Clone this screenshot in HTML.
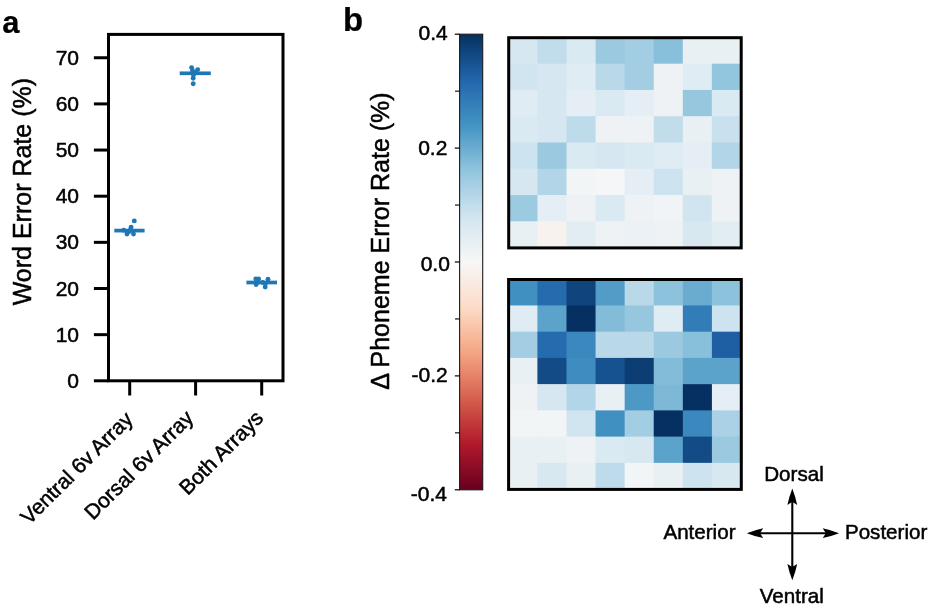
<!DOCTYPE html>
<html><head><meta charset="utf-8"><title>Figure</title>
<style>
html,body{margin:0;padding:0;background:#fff;}
svg{display:block;}
text{font-family:"Liberation Sans",Arial,sans-serif;fill:#000;stroke:#000;stroke-width:0.5px;}
.b{font-weight:bold;font-size:28px;stroke-width:0.2px;}
.t{font-size:21px;}
.c{font-size:20.6px;}
.l{font-size:25px;}
</style></head><body>
<svg width="931" height="612" viewBox="0 0 931 612">
<rect width="931" height="612" fill="#fff"/>

<text class="b" style="font-size:31px" x="2.2" y="32.5">a</text>
<text class="b" style="font-size:33px" x="343" y="30.5">b</text>
<rect x="108.5" y="34.4" width="174.5" height="346.4" fill="none" stroke="#000" stroke-width="3.0"/>
<line x1="93.9" x2="108.5" y1="380.80" y2="380.80" stroke="#000" stroke-width="3.0"/>
<text class="t" x="79" y="387.80" text-anchor="end">0</text>
<line x1="93.9" x2="108.5" y1="334.65" y2="334.65" stroke="#000" stroke-width="3.0"/>
<text class="t" x="79" y="341.65" text-anchor="end">10</text>
<line x1="93.9" x2="108.5" y1="288.50" y2="288.50" stroke="#000" stroke-width="3.0"/>
<text class="t" x="79" y="295.50" text-anchor="end">20</text>
<line x1="93.9" x2="108.5" y1="242.35" y2="242.35" stroke="#000" stroke-width="3.0"/>
<text class="t" x="79" y="249.35" text-anchor="end">30</text>
<line x1="93.9" x2="108.5" y1="196.20" y2="196.20" stroke="#000" stroke-width="3.0"/>
<text class="t" x="79" y="203.20" text-anchor="end">40</text>
<line x1="93.9" x2="108.5" y1="150.05" y2="150.05" stroke="#000" stroke-width="3.0"/>
<text class="t" x="79" y="157.05" text-anchor="end">50</text>
<line x1="93.9" x2="108.5" y1="103.90" y2="103.90" stroke="#000" stroke-width="3.0"/>
<text class="t" x="79" y="110.90" text-anchor="end">60</text>
<line x1="93.9" x2="108.5" y1="57.75" y2="57.75" stroke="#000" stroke-width="3.0"/>
<text class="t" x="79" y="64.75" text-anchor="end">70</text>
<line x1="129.7" x2="129.7" y1="380.8" y2="395.5" stroke="#000" stroke-width="3.0"/>
<line x1="195.6" x2="195.6" y1="380.8" y2="395.5" stroke="#000" stroke-width="3.0"/>
<line x1="261.7" x2="261.7" y1="380.8" y2="395.5" stroke="#000" stroke-width="3.0"/>
<text class="t" style="font-size:21.0px" text-anchor="end" transform="translate(134.1,420.6) rotate(-45)" x="0" y="0">Ventral 6v Array</text>
<text class="t" style="font-size:21.0px" text-anchor="end" transform="translate(194.6,419.3) rotate(-45)" x="0" y="0">Dorsal 6v Array</text>
<text class="t" style="font-size:21.0px" text-anchor="end" transform="translate(264.5,419.3) rotate(-45)" x="0" y="0">Both Arrays</text>
<text class="l" text-anchor="middle" transform="translate(31.4,191.65) rotate(-90)">Word Error Rate (%)</text>
<line x1="114.3" x2="144.6" y1="230.60" y2="230.60" stroke="#1f77b4" stroke-width="3.7"/>
<circle cx="134.3" cy="220.90" r="2.45" fill="#1f77b4"/>
<circle cx="131.1" cy="227.10" r="2.45" fill="#1f77b4"/>
<circle cx="127.0" cy="234.00" r="2.45" fill="#1f77b4"/>
<circle cx="133.5" cy="234.00" r="2.45" fill="#1f77b4"/>
<circle cx="123.7" cy="230.30" r="2.45" fill="#1f77b4"/>
<circle cx="129.5" cy="231.50" r="2.45" fill="#1f77b4"/>
<circle cx="130.5" cy="229.50" r="2.45" fill="#1f77b4"/>
<line x1="179.7" x2="210.8" y1="73.30" y2="73.30" stroke="#1f77b4" stroke-width="3.7"/>
<circle cx="191.6" cy="67.60" r="2.45" fill="#1f77b4"/>
<circle cx="197.7" cy="69.60" r="2.45" fill="#1f77b4"/>
<circle cx="192.5" cy="70.50" r="2.45" fill="#1f77b4"/>
<circle cx="195.5" cy="72.50" r="2.45" fill="#1f77b4"/>
<circle cx="193.5" cy="75.00" r="2.45" fill="#1f77b4"/>
<circle cx="193.2" cy="78.20" r="2.45" fill="#1f77b4"/>
<circle cx="193.2" cy="83.70" r="2.45" fill="#1f77b4"/>
<line x1="246.4" x2="277.0" y1="282.50" y2="282.50" stroke="#1f77b4" stroke-width="3.7"/>
<circle cx="255.8" cy="278.90" r="2.45" fill="#1f77b4"/>
<circle cx="258.6" cy="278.90" r="2.45" fill="#1f77b4"/>
<circle cx="268.0" cy="279.30" r="2.45" fill="#1f77b4"/>
<circle cx="256.2" cy="284.60" r="2.45" fill="#1f77b4"/>
<circle cx="265.2" cy="287.00" r="2.45" fill="#1f77b4"/>
<circle cx="262.7" cy="282.50" r="2.45" fill="#1f77b4"/>
<circle cx="265.5" cy="283.50" r="2.45" fill="#1f77b4"/>
<defs><linearGradient id="g" x1="0" y1="0" x2="0" y2="1">
<stop offset="0.0" stop-color="#053061"/>
<stop offset="0.1" stop-color="#2166ac"/>
<stop offset="0.2" stop-color="#4393c3"/>
<stop offset="0.3" stop-color="#92c5de"/>
<stop offset="0.4" stop-color="#d1e5f0"/>
<stop offset="0.5" stop-color="#f7f7f7"/>
<stop offset="0.6" stop-color="#fddbc7"/>
<stop offset="0.7" stop-color="#f4a582"/>
<stop offset="0.8" stop-color="#d6604d"/>
<stop offset="0.9" stop-color="#b2182b"/>
<stop offset="1.0" stop-color="#67001f"/>
</linearGradient></defs>
<rect x="459.6" y="34.2" width="23.1" height="455.6" fill="url(#g)" stroke="#1a1a1a" stroke-width="1.1"/>
<line x1="454.8" x2="459.6" y1="34.20" y2="34.20" stroke="#000" stroke-width="1.2"/>
<text class="t" x="447.7" y="39.8" text-anchor="end">0.4</text>
<line x1="455.0" x2="459.6" y1="91.15" y2="91.15" stroke="#000" stroke-width="1.1"/>
<line x1="454.8" x2="459.6" y1="148.10" y2="148.10" stroke="#000" stroke-width="1.2"/>
<text class="t" x="447.4" y="155.4" text-anchor="end">0.2</text>
<line x1="455.0" x2="459.6" y1="205.05" y2="205.05" stroke="#000" stroke-width="1.1"/>
<line x1="454.8" x2="459.6" y1="262.00" y2="262.00" stroke="#000" stroke-width="1.2"/>
<text class="t" x="449.9" y="271.0" text-anchor="end">0.0</text>
<line x1="455.0" x2="459.6" y1="318.95" y2="318.95" stroke="#000" stroke-width="1.1"/>
<line x1="454.8" x2="459.6" y1="375.90" y2="375.90" stroke="#000" stroke-width="1.2"/>
<text class="t" x="447.7" y="381.5" text-anchor="end">-0.2</text>
<line x1="455.0" x2="459.6" y1="432.85" y2="432.85" stroke="#000" stroke-width="1.1"/>
<line x1="454.8" x2="459.6" y1="489.80" y2="489.80" stroke="#000" stroke-width="1.2"/>
<text class="t" x="447.0" y="500.6" text-anchor="end">-0.4</text>
<text class="l" text-anchor="middle" transform="translate(389.3,241.05) rotate(-90)">Δ Phoneme Error Rate (%)</text>
<rect x="508.40" y="37.40" width="29.66" height="26.88" fill="#d6e7f1"/>
<rect x="537.46" y="37.40" width="29.66" height="26.88" fill="#c1ddec"/>
<rect x="566.53" y="37.40" width="29.66" height="26.88" fill="#daeaf2"/>
<rect x="595.59" y="37.40" width="29.66" height="26.88" fill="#9ac9e0"/>
<rect x="624.65" y="37.40" width="29.66" height="26.88" fill="#a2cde2"/>
<rect x="653.71" y="37.40" width="29.66" height="26.88" fill="#88bfdb"/>
<rect x="682.78" y="37.40" width="29.66" height="26.88" fill="#e9f0f4"/>
<rect x="711.84" y="37.40" width="29.66" height="26.88" fill="#e9f0f4"/>
<rect x="508.40" y="63.68" width="29.66" height="26.88" fill="#d1e5f0"/>
<rect x="537.46" y="63.68" width="29.66" height="26.88" fill="#d6e7f1"/>
<rect x="566.53" y="63.68" width="29.66" height="26.88" fill="#dfecf3"/>
<rect x="595.59" y="63.68" width="29.66" height="26.88" fill="#b9d9e9"/>
<rect x="624.65" y="63.68" width="29.66" height="26.88" fill="#a2cde2"/>
<rect x="653.71" y="63.68" width="29.66" height="26.88" fill="#eef2f5"/>
<rect x="682.78" y="63.68" width="29.66" height="26.88" fill="#dfecf3"/>
<rect x="711.84" y="63.68" width="29.66" height="26.88" fill="#92c5de"/>
<rect x="508.40" y="89.95" width="29.66" height="26.88" fill="#dfecf3"/>
<rect x="537.46" y="89.95" width="29.66" height="26.88" fill="#d6e7f1"/>
<rect x="566.53" y="89.95" width="29.66" height="26.88" fill="#e4eef4"/>
<rect x="595.59" y="89.95" width="29.66" height="26.88" fill="#daeaf2"/>
<rect x="624.65" y="89.95" width="29.66" height="26.88" fill="#e4eef4"/>
<rect x="653.71" y="89.95" width="29.66" height="26.88" fill="#eef2f5"/>
<rect x="682.78" y="89.95" width="29.66" height="26.88" fill="#96c7df"/>
<rect x="711.84" y="89.95" width="29.66" height="26.88" fill="#daeaf2"/>
<rect x="508.40" y="116.22" width="29.66" height="26.88" fill="#daeaf2"/>
<rect x="537.46" y="116.22" width="29.66" height="26.88" fill="#d6e7f1"/>
<rect x="566.53" y="116.22" width="29.66" height="26.88" fill="#bddbea"/>
<rect x="595.59" y="116.22" width="29.66" height="26.88" fill="#eef2f5"/>
<rect x="624.65" y="116.22" width="29.66" height="26.88" fill="#eef2f5"/>
<rect x="653.71" y="116.22" width="29.66" height="26.88" fill="#c1ddec"/>
<rect x="682.78" y="116.22" width="29.66" height="26.88" fill="#e9f0f4"/>
<rect x="711.84" y="116.22" width="29.66" height="26.88" fill="#c9e1ee"/>
<rect x="508.40" y="142.50" width="29.66" height="26.88" fill="#cde3ef"/>
<rect x="537.46" y="142.50" width="29.66" height="26.88" fill="#9ac9e0"/>
<rect x="566.53" y="142.50" width="29.66" height="26.88" fill="#daeaf2"/>
<rect x="595.59" y="142.50" width="29.66" height="26.88" fill="#d6e7f1"/>
<rect x="624.65" y="142.50" width="29.66" height="26.88" fill="#daeaf2"/>
<rect x="653.71" y="142.50" width="29.66" height="26.88" fill="#dfecf3"/>
<rect x="682.78" y="142.50" width="29.66" height="26.88" fill="#e4eef4"/>
<rect x="711.84" y="142.50" width="29.66" height="26.88" fill="#b2d5e7"/>
<rect x="508.40" y="168.77" width="29.66" height="26.88" fill="#d6e7f1"/>
<rect x="537.46" y="168.77" width="29.66" height="26.88" fill="#b2d5e7"/>
<rect x="566.53" y="168.77" width="29.66" height="26.88" fill="#f2f5f6"/>
<rect x="595.59" y="168.77" width="29.66" height="26.88" fill="#f5f6f7"/>
<rect x="624.65" y="168.77" width="29.66" height="26.88" fill="#e4eef4"/>
<rect x="653.71" y="168.77" width="29.66" height="26.88" fill="#cde3ef"/>
<rect x="682.78" y="168.77" width="29.66" height="26.88" fill="#e9f0f4"/>
<rect x="711.84" y="168.77" width="29.66" height="26.88" fill="#eef2f5"/>
<rect x="508.40" y="195.05" width="29.66" height="26.88" fill="#9bcae1"/>
<rect x="537.46" y="195.05" width="29.66" height="26.88" fill="#e4eef4"/>
<rect x="566.53" y="195.05" width="29.66" height="26.88" fill="#eef2f5"/>
<rect x="595.59" y="195.05" width="29.66" height="26.88" fill="#daeaf2"/>
<rect x="624.65" y="195.05" width="29.66" height="26.88" fill="#eef2f5"/>
<rect x="653.71" y="195.05" width="29.66" height="26.88" fill="#f0f4f6"/>
<rect x="682.78" y="195.05" width="29.66" height="26.88" fill="#d1e5f0"/>
<rect x="711.84" y="195.05" width="29.66" height="26.88" fill="#eef2f5"/>
<rect x="508.40" y="221.32" width="29.66" height="26.88" fill="#e9f0f4"/>
<rect x="537.46" y="221.32" width="29.66" height="26.88" fill="#f8f2ee"/>
<rect x="566.53" y="221.32" width="29.66" height="26.88" fill="#e2edf3"/>
<rect x="595.59" y="221.32" width="29.66" height="26.88" fill="#eef2f5"/>
<rect x="624.65" y="221.32" width="29.66" height="26.88" fill="#ebf1f5"/>
<rect x="653.71" y="221.32" width="29.66" height="26.88" fill="#eef2f5"/>
<rect x="682.78" y="221.32" width="29.66" height="26.88" fill="#d8e8f1"/>
<rect x="711.84" y="221.32" width="29.66" height="26.88" fill="#e2edf3"/>
<rect x="508.70" y="37.70" width="232.50" height="210.20" fill="none" stroke="#000" stroke-width="3.0"/>
<rect x="508.30" y="279.20" width="29.69" height="26.84" fill="#4190c2"/>
<rect x="537.39" y="279.20" width="29.69" height="26.84" fill="#256caf"/>
<rect x="566.48" y="279.20" width="29.69" height="26.84" fill="#10447d"/>
<rect x="595.56" y="279.20" width="29.69" height="26.84" fill="#529cc8"/>
<rect x="624.65" y="279.20" width="29.69" height="26.84" fill="#b9d9e9"/>
<rect x="653.74" y="279.20" width="29.69" height="26.84" fill="#8dc2dc"/>
<rect x="682.83" y="279.20" width="29.69" height="26.84" fill="#6aacd0"/>
<rect x="711.91" y="279.20" width="29.69" height="26.84" fill="#8dc2dc"/>
<rect x="508.30" y="305.44" width="29.69" height="26.84" fill="#dfecf3"/>
<rect x="537.39" y="305.44" width="29.69" height="26.84" fill="#5ca3cb"/>
<rect x="566.48" y="305.44" width="29.69" height="26.84" fill="#053061"/>
<rect x="595.56" y="305.44" width="29.69" height="26.84" fill="#83bcd9"/>
<rect x="624.65" y="305.44" width="29.69" height="26.84" fill="#96c7df"/>
<rect x="653.74" y="305.44" width="29.69" height="26.84" fill="#dfecf3"/>
<rect x="682.83" y="305.44" width="29.69" height="26.84" fill="#327cb8"/>
<rect x="711.91" y="305.44" width="29.69" height="26.84" fill="#cde3ef"/>
<rect x="508.30" y="331.68" width="29.69" height="26.84" fill="#a2cde2"/>
<rect x="537.39" y="331.68" width="29.69" height="26.84" fill="#256caf"/>
<rect x="566.48" y="331.68" width="29.69" height="26.84" fill="#3a88bd"/>
<rect x="595.56" y="331.68" width="29.69" height="26.84" fill="#b9d9e9"/>
<rect x="624.65" y="331.68" width="29.69" height="26.84" fill="#b9d9e9"/>
<rect x="653.74" y="331.68" width="29.69" height="26.84" fill="#9ac9e0"/>
<rect x="682.83" y="331.68" width="29.69" height="26.84" fill="#88bfdb"/>
<rect x="711.91" y="331.68" width="29.69" height="26.84" fill="#1e5fa3"/>
<rect x="508.30" y="357.91" width="29.69" height="26.84" fill="#e9f0f4"/>
<rect x="537.39" y="357.91" width="29.69" height="26.84" fill="#134b86"/>
<rect x="566.48" y="357.91" width="29.69" height="26.84" fill="#3f8dc0"/>
<rect x="595.56" y="357.91" width="29.69" height="26.84" fill="#165290"/>
<rect x="624.65" y="357.91" width="29.69" height="26.84" fill="#0c3e74"/>
<rect x="653.74" y="357.91" width="29.69" height="26.84" fill="#83bcd9"/>
<rect x="682.83" y="357.91" width="29.69" height="26.84" fill="#5ca3cb"/>
<rect x="711.91" y="357.91" width="29.69" height="26.84" fill="#5ca3cb"/>
<rect x="508.30" y="384.15" width="29.69" height="26.84" fill="#eef2f5"/>
<rect x="537.39" y="384.15" width="29.69" height="26.84" fill="#d6e7f1"/>
<rect x="566.48" y="384.15" width="29.69" height="26.84" fill="#b2d5e7"/>
<rect x="595.56" y="384.15" width="29.69" height="26.84" fill="#e9f0f4"/>
<rect x="624.65" y="384.15" width="29.69" height="26.84" fill="#4d99c6"/>
<rect x="653.74" y="384.15" width="29.69" height="26.84" fill="#7eb8d7"/>
<rect x="682.83" y="384.15" width="29.69" height="26.84" fill="#053061"/>
<rect x="711.91" y="384.15" width="29.69" height="26.84" fill="#e4eef4"/>
<rect x="508.30" y="410.39" width="29.69" height="26.84" fill="#f2f5f6"/>
<rect x="537.39" y="410.39" width="29.69" height="26.84" fill="#f2f5f6"/>
<rect x="566.48" y="410.39" width="29.69" height="26.84" fill="#d1e5f0"/>
<rect x="595.56" y="410.39" width="29.69" height="26.84" fill="#4190c2"/>
<rect x="624.65" y="410.39" width="29.69" height="26.84" fill="#a2cde2"/>
<rect x="653.74" y="410.39" width="29.69" height="26.84" fill="#053061"/>
<rect x="682.83" y="410.39" width="29.69" height="26.84" fill="#3a88bd"/>
<rect x="711.91" y="410.39" width="29.69" height="26.84" fill="#aad1e5"/>
<rect x="508.30" y="436.62" width="29.69" height="26.84" fill="#e9f0f4"/>
<rect x="537.39" y="436.62" width="29.69" height="26.84" fill="#e9f0f4"/>
<rect x="566.48" y="436.62" width="29.69" height="26.84" fill="#eef2f5"/>
<rect x="595.56" y="436.62" width="29.69" height="26.84" fill="#daeaf2"/>
<rect x="624.65" y="436.62" width="29.69" height="26.84" fill="#d8e8f1"/>
<rect x="653.74" y="436.62" width="29.69" height="26.84" fill="#5ca3cb"/>
<rect x="682.83" y="436.62" width="29.69" height="26.84" fill="#134b86"/>
<rect x="711.91" y="436.62" width="29.69" height="26.84" fill="#9ac9e0"/>
<rect x="508.30" y="462.86" width="29.69" height="26.84" fill="#e9f0f4"/>
<rect x="537.39" y="462.86" width="29.69" height="26.84" fill="#d8e8f1"/>
<rect x="566.48" y="462.86" width="29.69" height="26.84" fill="#e9f0f4"/>
<rect x="595.56" y="462.86" width="29.69" height="26.84" fill="#bddbea"/>
<rect x="624.65" y="462.86" width="29.69" height="26.84" fill="#f2f5f6"/>
<rect x="653.74" y="462.86" width="29.69" height="26.84" fill="#e9f0f4"/>
<rect x="682.83" y="462.86" width="29.69" height="26.84" fill="#cde3ef"/>
<rect x="711.91" y="462.86" width="29.69" height="26.84" fill="#d8e8f1"/>
<rect x="508.60" y="279.50" width="232.70" height="209.90" fill="none" stroke="#000" stroke-width="3.0"/>
<g fill="#000" stroke="none">
<path id="hd" d="M0,0 Q8,-3.1 16.4,-4.9 L13.2,0 L16.4,4.9 Q8,3.1 0,0 Z" transform="translate(746.8,533.2)"/>
<path d="M0,0 Q8,-3.1 16.4,-4.9 L13.2,0 L16.4,4.9 Q8,3.1 0,0 Z" transform="translate(839.1,533.2) rotate(180)"/>
<path d="M0,0 Q8,-3.1 16.4,-4.9 L13.2,0 L16.4,4.9 Q8,3.1 0,0 Z" transform="translate(792.3,488.6) rotate(90)"/>
<path d="M0,0 Q8,-3.1 16.4,-4.9 L13.2,0 L16.4,4.9 Q8,3.1 0,0 Z" transform="translate(792.3,580.3) rotate(-90)"/>
</g>
<line x1="757" x2="829" y1="533.2" y2="533.2" stroke="#000" stroke-width="2.1"/>
<line x1="792.3" x2="792.3" y1="499" y2="570" stroke="#000" stroke-width="2.1"/>
<text class="c" x="794" y="480.9" text-anchor="middle">Dorsal</text>
<text class="c" x="791.8" y="602.9" text-anchor="middle">Ventral</text>
<text class="c" x="735.5" y="538.6" text-anchor="end">Anterior</text>
<text class="c" x="844.9" y="538.6" text-anchor="start">Posterior</text>

</svg></body></html>
